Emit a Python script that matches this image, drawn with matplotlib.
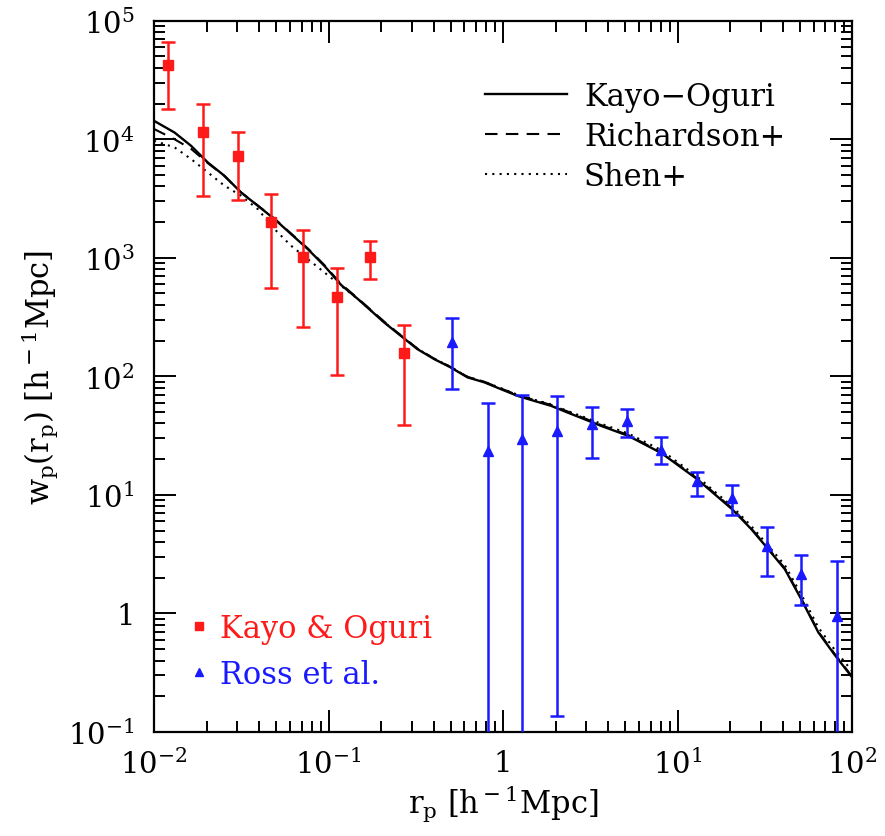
import numpy as np
import matplotlib.pyplot as plt
from matplotlib.lines import Line2D
from matplotlib.ticker import FixedLocator, LogLocator, NullFormatter, FixedFormatter

plt.rcParams['font.family'] = 'DejaVu Serif'
plt.rcParams['mathtext.fontset'] = 'dejavuserif'

# Kayo & Oguri measurements
ko_r = [0.0121, 0.0191, 0.0303, 0.0467, 0.0718, 0.112, 0.173, 0.270]
ko_w = [42300, 11570, 7260, 2015, 1007, 464, 1019, 156]
ko_hi = [66600, 19800, 11430, 3440, 1722, 818, 1374, 272]
ko_lo = [18000, 3340, 3070, 558, 260, 103, 661, 39]

# Ross et al. measurements (lower bars of the first points run off the axis)
ross_r = [0.510, 0.817, 1.28, 2.04, 3.22, 5.14, 8.07, 12.9, 20.5, 32.4, 51.1, 81.7]
ross_w = [195, 23.5, 29.5, 34.7, 39.5, 42.2, 24.0, 13.1, 9.33, 3.72, 2.14, 0.953]
ross_hi = [308, 59, 69.3, 67.6, 55.3, 52.8, 30.5, 15.7, 12.1, 5.31, 3.10, 2.78]
ross_lo = [78, 1e-3, 1e-3, 0.136, 20.4, 30.5, 18.2, 9.8, 6.74, 2.07, 1.17, 1e-3]

# model curves
ko_model_r = [0.01, 0.0131, 0.0163, 0.0203, 0.0253, 0.0315, 0.0393, 0.049, 0.061,
              0.076, 0.0945, 0.118, 0.147, 0.208, 0.259, 0.322, 0.402, 0.50, 0.625,
              0.78, 0.97, 1.21, 1.51, 1.88, 2.34, 2.92, 3.64, 5.2, 8.07, 12.9, 20.5,
              26.4, 32.4, 41.1, 51, 64, 78.8, 100]
ko_model_w = [14300, 11400, 8810, 6380, 4920, 3560, 2750, 2120, 1585,
              1185, 857, 590, 450, 285, 220, 170, 140, 119, 98,
              89, 78, 68.4, 62, 56.4, 49.5, 43.5, 38.2, 31.5, 22.5, 13.6, 7.57,
              5.14, 3.6, 2.36, 1.32, 0.69, 0.453, 0.288]

rich_r = [0.01, 0.0131, 0.0163, 0.0203, 0.0253, 0.0315, 0.0393, 0.049, 0.061,
          0.076, 0.0945, 0.118, 0.147, 0.208, 0.259, 0.322, 0.402, 0.50, 0.625,
          0.78, 0.97, 1.21, 1.51, 1.88, 2.34, 2.92, 3.64, 5.2, 8.07, 12.9, 20.5,
          26.4, 32.4, 41.1, 51, 64, 78.8, 100]
rich_w = [12200, 10000, 8300, 6300, 4900, 3560, 2760, 2140, 1600,
          1200, 870, 600, 455, 290, 222, 172, 141, 120, 99,
          90, 79, 69.5, 63, 57.4, 50.5, 44.3, 38.8, 32.0, 22.8, 13.8, 7.7,
          5.2, 3.65, 2.4, 1.34, 0.70, 0.46, 0.292]

shen_r = [0.01, 0.0131, 0.0163, 0.0203, 0.0253, 0.0315, 0.0393, 0.049, 0.061,
          0.076, 0.0945, 0.118, 0.147, 0.208, 0.259, 0.322, 0.402, 0.50, 0.625,
          0.78, 0.97, 1.21, 1.51, 1.88, 2.34, 2.92, 3.64, 5.2, 8.07, 12.9, 20.5,
          26.4, 32.4, 41.1, 51, 64, 78.8, 100]
shen_w = [9700, 8550, 6810, 5260, 4060, 3340, 2575, 1745, 1263,
          975, 754, 580, 450, 287, 222, 171, 141, 120, 99,
          90, 79.5, 70, 63.5, 58, 51, 45.2, 39.8, 33.0, 23.8, 14.3, 8.0,
          5.45, 3.85, 2.55, 1.45, 0.76, 0.50, 0.325]

red = '#ff1a1a'
blue = '#1a1aff'

fig = plt.figure(figsize=(8.85, 8.37), dpi=100)
ax = fig.add_axes([0.174, 0.1243, 0.789, 0.8498])

l1, = ax.plot(ko_model_r, ko_model_w, color='black', lw=1.7, ls='-')
l2, = ax.plot(rich_r, rich_w, color='black', lw=1.5, ls=(0, (6, 4)))
l3, = ax.plot(shen_r, shen_w, color='black', lw=1.5, ls=(0, (1, 2.5)))

ko_w_a = np.array(ko_w)
ax.errorbar(ko_r, ko_w, yerr=[ko_w_a - np.array(ko_lo), np.array(ko_hi) - ko_w_a],
            fmt='s', color=red, ms=6.5, elinewidth=1.8, capsize=5, capthick=1.8, zorder=3)
ross_w_a = np.array(ross_w)
ax.errorbar(ross_r, ross_w, yerr=[ross_w_a - np.array(ross_lo), np.array(ross_hi) - ross_w_a],
            fmt='^', color=blue, ms=7, elinewidth=1.8, capsize=5, capthick=1.8, zorder=3)

ax.set_xscale('log')
ax.set_yscale('log')
ax.set_xlim(1e-2, 1e2)
ax.set_ylim(1e-1, 1e5)

ax.xaxis.set_major_locator(FixedLocator([1e-2, 1e-1, 1, 1e1, 1e2]))
ax.xaxis.set_major_formatter(FixedFormatter([r'$10^{-2}$', r'$10^{-1}$', '1', r'$10^{1}$', r'$10^{2}$']))
ax.yaxis.set_major_locator(FixedLocator([1e-1, 1, 1e1, 1e2, 1e3, 1e4, 1e5]))
ax.yaxis.set_major_formatter(FixedFormatter([r'$10^{-1}$', '1', r'$10^{1}$', r'$10^{2}$',
                                             r'$10^{3}$', r'$10^{4}$', r'$10^{5}$']))
for axis in (ax.xaxis, ax.yaxis):
    axis.set_minor_locator(LogLocator(base=10, subs=np.arange(2, 10), numticks=20))
    axis.set_minor_formatter(NullFormatter())

ax.tick_params(which='both', direction='in', top=True, right=True, width=1.4, labelsize=21)
ax.tick_params(axis='x', pad=12)
ax.tick_params(axis='y', pad=14)
ax.tick_params(which='major', length=16)
ax.tick_params(which='minor', length=8)
for s in ax.spines.values():
    s.set_linewidth(1.6)

ax.set_xlabel(r'r$_{\rm p}$ [h$^{\rm -1}$Mpc]', fontsize=22, labelpad=2)
ax.set_ylabel(r'w$_{\rm p}$(r$_{\rm p}$) [h$^{\rm -1}$Mpc]', fontsize=22, labelpad=6)

leg1 = ax.legend([l1, l2, l3], ['Kayo\u2212Oguri', 'Richardson+', 'Shen+'],
                 loc='upper left', bbox_to_anchor=(0.456, 0.933), frameon=False,
                 fontsize=22, handlelength=2.7, handletextpad=0.55, labelspacing=0.3,
                 borderaxespad=0)
ax.add_artist(leg1)

h1 = Line2D([], [], ls='none', marker='s', color=red, ms=5.5)
h2 = Line2D([], [], ls='none', marker='^', color=blue, ms=6)
ax.legend([h1, h2], ['Kayo & Oguri', 'Ross et al.'], loc='lower left',
          bbox_to_anchor=(0.036, 0.042), frameon=False, fontsize=22,
          handlelength=0.5, handletextpad=0.45, labelspacing=0.5, borderaxespad=0,
          labelcolor=[red, blue])

fig.savefig('out.png', dpi=100)
